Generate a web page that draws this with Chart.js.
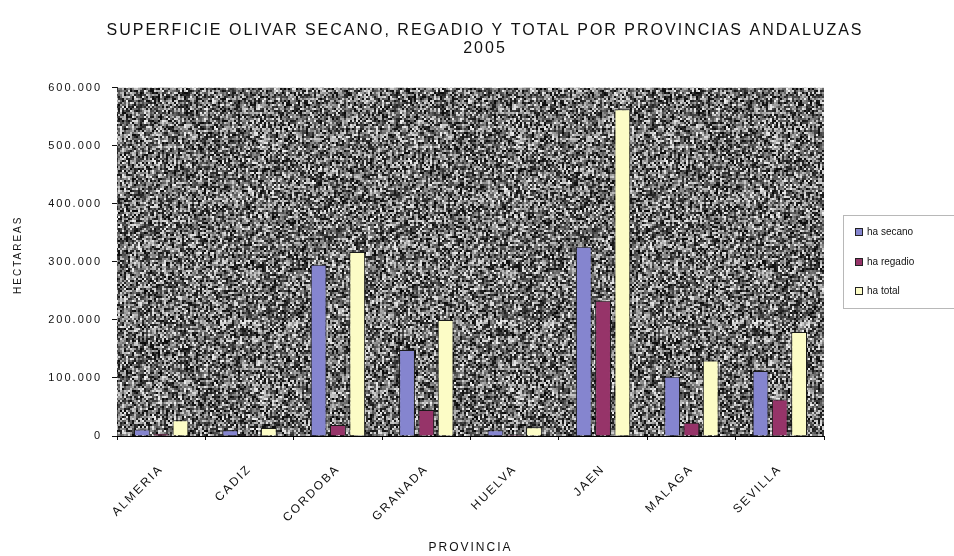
<!DOCTYPE html>
<html>
<head>
<meta charset="utf-8">
<script src="https://cdn.jsdelivr.net/npm/chart.js@4.4.1/dist/chart.umd.min.js"></script>
<style>
  html, body { margin: 0; padding: 0; background: #ffffff; }
  #wrap { width: 954px; height: 556px; position: relative; }
</style>
</head>
<body>
<div id="wrap"><canvas id="c" width="954" height="556"></canvas></div>
<script>
// ---- data ----
const categories = ['ALMERIA', 'CADIZ', 'CORDOBA', 'GRANADA', 'HUELVA', 'JAEN', 'MALAGA', 'SEVILLA'];
const seriesNames = ['ha secano', 'ha regadio', 'ha total'];
const haSecano  = [11000, 10000, 295000, 148000, 10000, 326000, 102000, 112000];
const haRegadio = [4000, 1500, 19000, 45000, 2500, 233000, 23000, 63000];
const haTotal   = [27000, 14000, 317000, 200000, 15000, 563000, 130000, 179000];
const yTicks    = [0, 100000, 200000, 300000, 400000, 500000, 600000];
const titleLines = ['SUPERFICIE OLIVAR SECANO, REGADIO Y TOTAL POR PROVINCIAS ANDALUZAS', '2005'];
const yTitle = 'HECTAREAS';
const xTitle = 'PROVINCIA';

const FONT = "'Liberation Sans', Arial, sans-serif";
const colors = ['#8585cf', '#963469', '#fcfcc6'];

function fmt(v) {
  return String(v).replace(/\B(?=(\d{3})+(?!\d))/g, '.');
}

// deterministic hash for the decorative speckled plot background
function hash(x, y) {
  let h = (Math.imul(x, 374761393) + Math.imul(y, 668265263)) | 0;
  h = Math.imul(h ^ (h >>> 13), 1274126177);
  h = h ^ (h >>> 16);
  return (h >>> 0) / 4294967296;
}
function makeNoise(ctx) {
  const n = 128;
  const c = document.createElement('canvas'); c.width = n; c.height = n;
  const g = c.getContext('2d');
  const img = g.createImageData(n, n);
  for (let y = 0; y < n; y++) for (let x = 0; x < n; x++) {
    const v = Math.round(8 + 232 * Math.pow(hash(x, y), 1.25));
    const i = (y * n + x) * 4;
    img.data[i] = img.data[i + 1] = img.data[i + 2] = v; img.data[i + 3] = 255;
  }
  g.putImageData(img, 0, 0);
  const c2 = document.createElement('canvas'); c2.width = 2 * n; c2.height = 2 * n;
  const g2 = c2.getContext('2d');
  g2.imageSmoothingEnabled = false;
  g2.drawImage(c, 0, 0, 2 * n, 2 * n);
  const c3 = document.createElement('canvas'); c3.width = 2 * n; c3.height = 2 * n;
  const g3 = c3.getContext('2d');
  g3.filter = 'blur(0.5px)';
  g3.drawImage(c2, 0, 0);
  return ctx.createPattern(c3, 'repeat');
}

const spacingPlugin = {
  id: 'spacing',
  beforeLayout(chart) { chart.ctx.letterSpacing = '2px'; },
  beforeDraw(chart) { chart.ctx.letterSpacing = '2px'; }
};

const noisePlugin = {
  id: 'plotNoise',
  beforeDatasetsDraw(chart) {
    const { ctx, chartArea: a } = chart;
    if (!chart.$noise) chart.$noise = makeNoise(ctx);
    ctx.save();
    ctx.fillStyle = chart.$noise;
    ctx.fillRect(a.left, a.top, a.right - a.left, a.bottom - a.top);
    ctx.restore();
  }
};

const legendPlugin = {
  id: 'customLegend',
  afterDraw(chart) {
    const ctx = chart.ctx;
    ctx.save();
    ctx.letterSpacing = '0px';
    ctx.strokeStyle = '#b8b8b8';
    ctx.lineWidth = 1;
    ctx.strokeRect(843.5, 215.5, 120, 93);
    const ys = [232, 262, 291];
    ctx.font = '10px ' + FONT;
    ctx.textBaseline = 'middle';
    ctx.textAlign = 'left';
    chart.data.datasets.forEach((ds, i) => {
      ctx.fillStyle = ds.backgroundColor;
      ctx.fillRect(855, ys[i] - 4, 8, 8);
      ctx.strokeStyle = '#222';
      ctx.strokeRect(855.5, ys[i] - 3.5, 7, 7);
      ctx.fillStyle = '#111';
      ctx.fillText(ds.label, 867, ys[i] + 0.5);
    });
    ctx.restore();
  }
};

const datasets = [haSecano, haRegadio, haTotal].map((vals, i) => ({
  label: seriesNames[i],
  data: vals,
  backgroundColor: colors[i],
  borderColor: '#1a1a1a',
  borderWidth: 1,
  categoryPercentage: 0.655,
  barPercentage: 0.82
}));

new Chart(document.getElementById('c'), {
  type: 'bar',
  data: { labels: categories, datasets },
  plugins: [spacingPlugin, noisePlugin, legendPlugin],
  options: {
    responsive: false,
    animation: false,
    devicePixelRatio: 1,
    layout: { padding: { left: 16, right: 0, top: 0, bottom: 0 } },
    plugins: {
      // built-in legend used only as an empty spacer on the right; drawn by customLegend
      legend: {
        display: true,
        position: 'right',
        labels: { padding: 120, filter: () => false }
      },
      tooltip: { enabled: false },
      title: {
        display: true,
        text: titleLines,
        color: '#111',
        font: { family: FONT, size: 16, weight: 'normal', lineHeight: 1.15 },
        padding: { top: 21, bottom: 30 }
      }
    },
    scales: {
      x: {
        afterFit(scale) { scale.height = 120; },
        grid: { display: true, drawOnChartArea: false, offset: true, tickLength: 4, color: '#111' },
        border: { display: true, color: '#000', width: 1 },
        ticks: {
          maxRotation: 45, minRotation: 45, autoSkip: false,
          padding: 22, color: '#111',
          font: { family: FONT, size: 12 }
        },
        title: {
          display: true, text: xTitle, color: '#111',
          font: { family: FONT, size: 12 },
          padding: { top: 0, bottom: 1 }
        }
      },
      y: {
        min: 0, max: 600000,
        afterFit(scale) { scale.width = 101; },
        afterBuildTicks(scale) { scale.ticks = yTicks.map(v => ({ value: v })); },
        grid: { display: true, drawOnChartArea: false, tickLength: 5, color: '#111' },
        border: { display: true, color: '#000', width: 1 },
        ticks: {
          padding: 10, color: '#111',
          font: { family: FONT, size: 11 },
          callback: (v) => fmt(v)
        },
        title: {
          display: true, text: '   ' + yTitle, color: '#111',
          font: { family: FONT, size: 10, lineHeight: 0.5 },
          padding: { top: 0, bottom: 0 }
        }
      }
    }
  }
});
</script>
</body>
</html>
